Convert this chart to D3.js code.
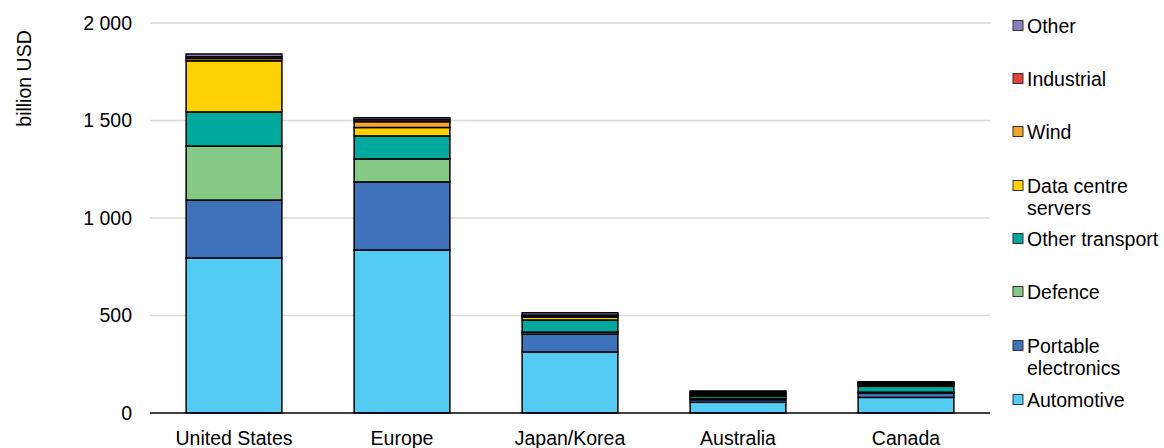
<!DOCTYPE html>
<html><head><meta charset="utf-8">
<script src="https://cdn.jsdelivr.net/npm/d3@7"></script>
<style>body{margin:0;background:#fff}svg{display:block;font-family:"Liberation Sans",Arial,sans-serif}</style>
</head><body><svg id="c" width="1164" height="448"></svg>
<script>
const categories = ["United States","Europe","Japan/Korea","Australia","Canada"];
const seriesNames = ["Automotive","Portable electronics","Defence","Other transport","Data centre servers","Wind","Industrial","Other"];
const automotive = [795, 836, 313, 55, 80];
const portableElectronics = [297, 349, 92, 13, 22];
const defence = [277, 118, 10, 6, 5];
const otherTransport = [175, 118, 62, 12, 30];
const dataCentreServers = [262, 43, 14, 8, 8];
const wind = [12, 30, 6, 7, 5];
const industrial = [9, 10, 5, 6, 5];
const other = [14, 10, 12, 6, 5];
const yTicks = [0, 500, 1000, 1500, 2000];
const colors = ["#53CBF3","#3E72BA","#86C987","#00A99D","#FFD100","#F1A52C","#E5413A","#8E7CC3"];

const FS = 19.5;
const seriesValues = [automotive, portableElectronics, defence, otherTransport, dataCentreServers, wind, industrial, other];
const rows = categories.map((c,i)=>{const r={cat:c}; seriesNames.forEach((s,j)=>r[s]=seriesValues[j][i]); return r;});
const stack = d3.stack().keys(seriesNames)(rows);

const svg = d3.select("#c");
const x = d3.scaleBand().domain(categories).range([150,990]).paddingInner(0.43).paddingOuter(0.215);
const y = d3.scaleLinear().domain([0,2000]).range([413,23]);

// gridlines
svg.append("g").selectAll("line").data(yTicks.filter(d=>d>0)).join("line")
  .attr("x1",150).attr("x2",990).attr("y1",d=>y(d)).attr("y2",d=>y(d))
  .attr("stroke","#d9d9d9").attr("stroke-width",1.3);

// y axis
const ya = svg.append("g").attr("transform","translate(150,0)")
  .call(d3.axisLeft(y).tickValues(yTicks).tickSize(0).tickPadding(18)
    .tickFormat(d=>d3.format(",")(d).replace(/,/g," ")));
ya.select(".domain").remove();
ya.selectAll("text").attr("font-size",FS).attr("fill","#000").attr("font-family","Liberation Sans, Arial, sans-serif");

// bars
svg.append("g").selectAll("g").data(stack).join("g")
  .attr("fill",(d,i)=>colors[i])
  .selectAll("rect").data(d=>d).join("rect")
  .attr("x",d=>x(d.data.cat)).attr("width",x.bandwidth())
  .attr("y",d=>y(d[1])).attr("height",d=>y(d[0])-y(d[1]))
  .attr("stroke","#000").attr("stroke-width",1.5);

// baseline
svg.append("line").attr("x1",150).attr("x2",990).attr("y1",y(0)).attr("y2",y(0))
  .attr("stroke","#000").attr("stroke-width",1.3);

// x axis labels
const xa = svg.append("g").attr("transform",`translate(0,${y(0)})`)
  .call(d3.axisBottom(x).tickSize(0).tickPadding(18));
xa.select(".domain").remove();
xa.selectAll("text").attr("font-size",FS).attr("fill","#000").attr("font-family","Liberation Sans, Arial, sans-serif");

// y title
svg.append("text").attr("transform","translate(31,78.5) rotate(-90)")
  .attr("text-anchor","middle").attr("font-size",FS).text("billion USD");

// legend (top to bottom: reversed)
const legendItems = [
  {name:"Other", lines:["Other"], y:26},
  {name:"Industrial", lines:["Industrial"], y:79},
  {name:"Wind", lines:["Wind"], y:132},
  {name:"Data centre servers", lines:["Data centre","servers"], y:186},
  {name:"Other transport", lines:["Other transport"], y:239},
  {name:"Defence", lines:["Defence"], y:292},
  {name:"Portable electronics", lines:["Portable","electronics"], y:346},
  {name:"Automotive", lines:["Automotive"], y:400}
];
const leg = svg.append("g");
legendItems.forEach(it=>{
  const idx = seriesNames.indexOf(it.name);
  leg.append("rect").attr("x",1013).attr("y",it.y-5.5).attr("width",10).attr("height",10)
    .attr("fill",colors[idx]).attr("stroke","#333").attr("stroke-width",1);
  const t = leg.append("text").attr("x",1027).attr("y",it.y+7).attr("font-size",FS).attr("fill","#000");
  it.lines.forEach((l,k)=>t.append("tspan").attr("x",1027).attr("dy",k===0?0:22).text(l));
});
</script></body></html>
